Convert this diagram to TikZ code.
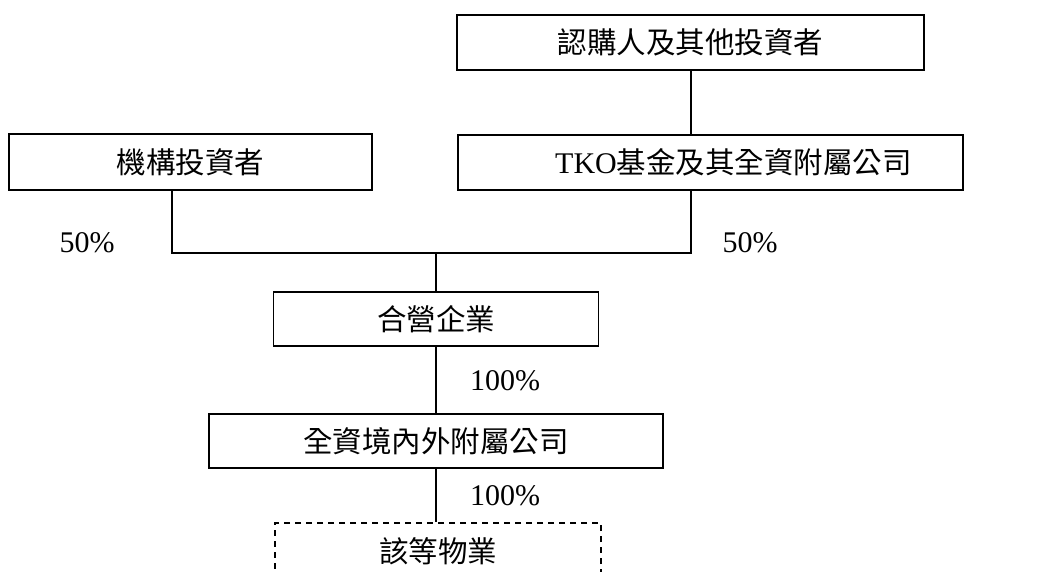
\documentclass[tikz,border=0pt]{standalone}
\usepackage{fontspec}
\setmainfont{Liberation Serif}
\newfontfamily\cjk{Noto Sans CJK TC}
\begin{document}
\begin{tikzpicture}[x=1pt,y=-1pt,
  box/.style={draw,line width=1.2pt,inner sep=0pt,font=\fontsize{29.5}{34}\selectfont\cjk},
  pct/.style={inner sep=0pt,font=\fontsize{30}{34}\selectfont},
  conn/.style={line width=1.2pt}]
\useasboundingbox (0,0) rectangle (1044,572);
\clip (0,0) rectangle (1044,572);
\node[box,minimum width=467pt,minimum height=55pt] (sub) at (690.5,42.5) {認購人及其他投資者};
\node[box,minimum width=505pt,minimum height=55pt,
  label={[font=\fontsize{29.5}{34}\selectfont,xshift=23pt]center:{\rmfamily\fontsize{30}{34}\selectfont TKO}{\cjk 基金及其全資附屬公司}}] (tko) at (710.5,162.5) {};
\node[box,minimum width=363pt,minimum height=56pt] (inst) at (190.5,162) {機構投資者};
\node[box,minimum width=325pt,minimum height=54pt] (jv) at (436,319) {合營企業};
\node[box,minimum width=454pt,minimum height=54pt] (sub2) at (436,441) {全資境內外附屬公司};
\node[box,dashed,dash pattern=on 6pt off 5pt,minimum width=326pt,minimum height=56pt] (prop) at (438,551) {該等物業};
\coordinate (L) at (172,253);
\coordinate (R) at (691,253);
\draw[conn] (sub.south -| R) -- (R |- tko.north);
\draw[conn] (inst.south -| L) -- (L) -- (R) -- (R |- tko.south);
\draw[conn] (jv.north |- L) -- (jv.north);
\draw[conn] (jv.south) -- (sub2.north);
\draw[conn] (sub2.south) -- (sub2.south |- prop.north);
\node[pct] (p1) at (87,243) {50\%};
\node[pct] (p2) at (750,243) {50\%};
\node[pct] (p3) at (505,381) {100\%};
\node[pct] (p4) at (505,496) {100\%};
\end{tikzpicture}
\end{document}
